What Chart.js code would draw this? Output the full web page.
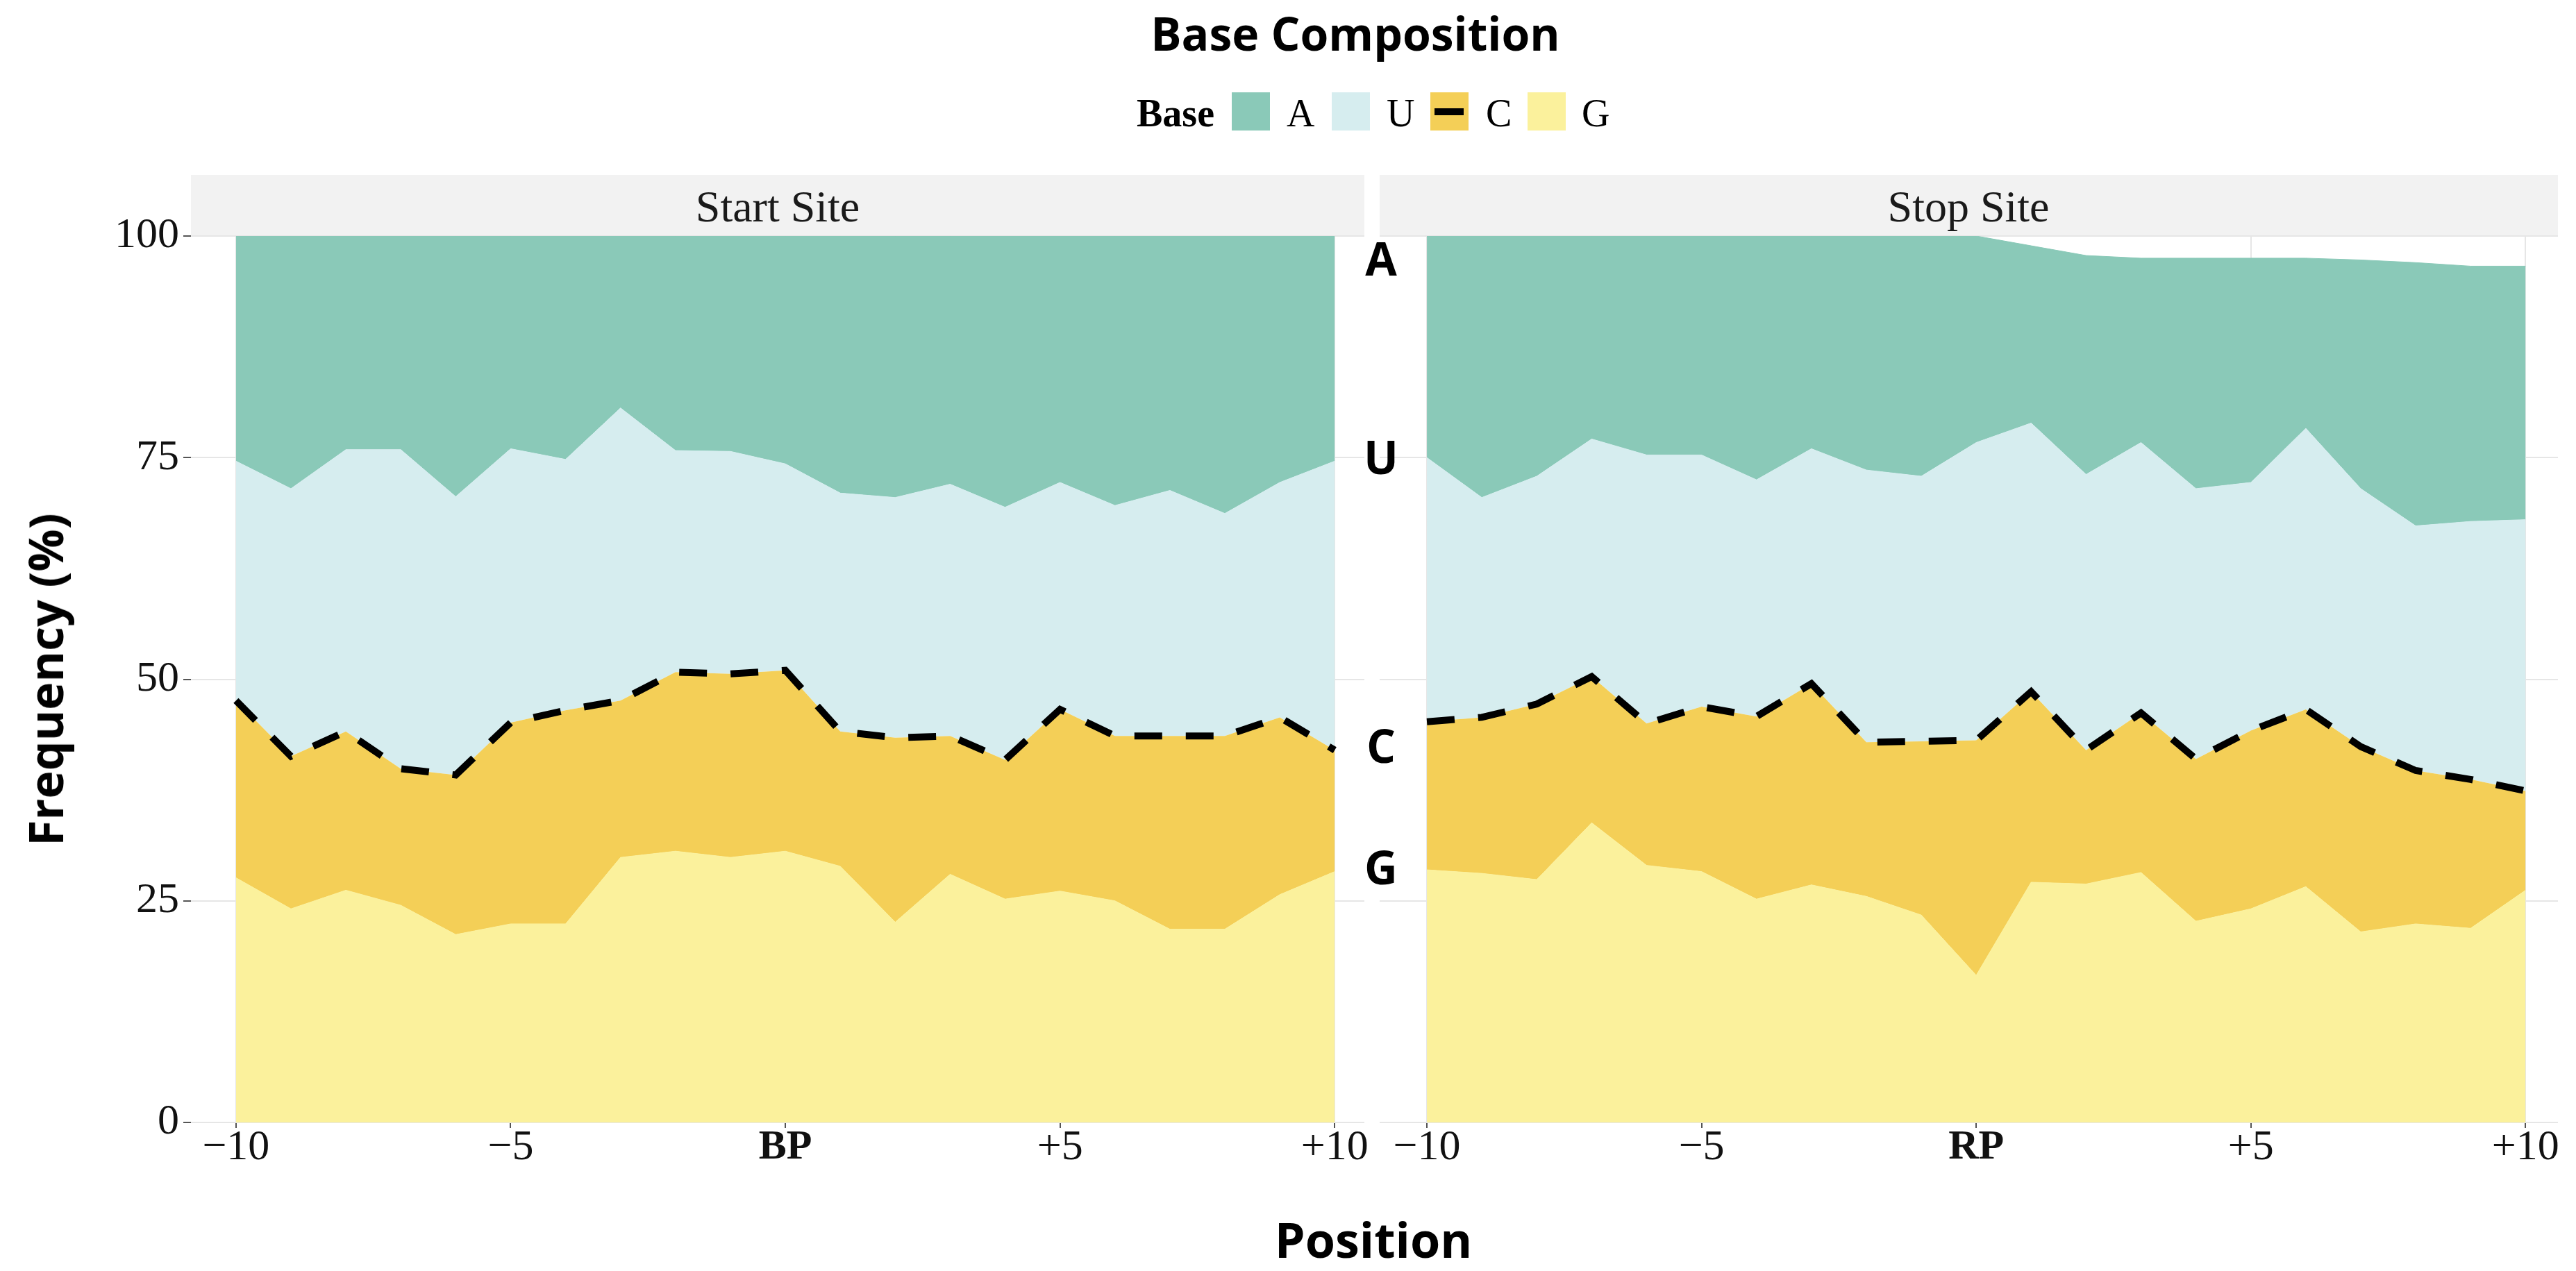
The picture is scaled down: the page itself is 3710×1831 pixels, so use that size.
<!DOCTYPE html>
<html lang="en">

<head>
  <meta charset="UTF-8" />
  <title>Base Composition</title>
  <script src="https://cdn.jsdelivr.net/npm/chart.js"></script>
  <style>
    body { margin: 0; width: 3710px; height: 1831px; position: relative; background: #fff; overflow: hidden; }
    .txt { position: absolute; white-space: nowrap; line-height: 1; color: #000; }
    .sans { font-family: "Open Sans", sans-serif; font-weight: 700; }
    .serif { font-family: "Liberation Serif", "Times New Roman", serif; }
    .strip { position: absolute; top: 252px; height: 88px; background: #f2f2f2; }
    .key { position: absolute; top: 133px; width: 55px; height: 55px; }
    canvas { position: absolute; top: 300px; }
  </style>
</head>

<body>
  <div class="txt sans" style="font-size:66px; left:1952px; top:14px; transform:translateX(-50%);">Base Composition</div>

  <!-- legend -->
  <div class="txt serif" style="font-size:56px; font-weight:700; left:1637px; top:135px;">Base</div>
  <div class="key" style="left:1774px; background:#8ac9b8;"></div>
  <div class="txt serif" style="font-size:56px; left:1853px; top:135px;">A</div>
  <div class="key" style="left:1918px; background:#d6edef;"></div>
  <div class="txt serif" style="font-size:56px; left:1997px; top:135px;">U</div>
  <div class="key" style="left:2060px; background:#f4cf57;">
    <div style="position:absolute; left:6px; top:23px; width:42px; height:10px; background:#000;"></div>
  </div>
  <div class="txt serif" style="font-size:56px; left:2140px; top:135px;">C</div>
  <div class="key" style="left:2200px; background:#fbf19c;"></div>
  <div class="txt serif" style="font-size:56px; left:2278px; top:135px;">G</div>

  <!-- facet strips -->
  <div class="strip" style="left:275px; width:1690px;"></div>
  <div class="strip" style="left:1987px; width:1697px;"></div>
  <div class="txt serif" style="font-size:64px; left:1120px; top:266px; transform:translateX(-50%); color:#1a1a1a;">Start Site</div>
  <div class="txt serif" style="font-size:64px; left:2835px; top:266px; transform:translateX(-50%); color:#1a1a1a;">Stop Site</div>

  <canvas id="startChart" width="2030" height="1531" style="left:0px;"></canvas>
  <canvas id="stopChart" width="1770" height="1531" style="left:1940px;"></canvas>

  <div class="txt sans" style="font-size:68px; left:65px; top:979px; transform:translate(-50%,-50%) rotate(-90deg);">Frequency (%)</div>
  <div class="txt sans" style="font-size:70px; left:1978px; top:1750px; transform:translateX(-50%);">Position</div>

  <script>
    const positions = [-10, -9, -8, -7, -6, -5, -4, -3, -2, -1, 0, 1, 2, 3, 4, 5, 6, 7, 8, 9, 10];
    const xTicks = [-10, -5, 0, 5, 10];
    const startTickLabels = ["\u221210", "\u22125", "BP", "+5", "+10"];
    const stopTickLabels = ["\u221210", "\u22125", "RP", "+5", "+10"];

    // frequency (%) of each base per position
    const startA = [25.4, 28.5, 24.1, 24.1, 29.4, 24.0, 25.2, 19.4, 24.2, 24.3, 25.7, 29.0, 29.5, 28.0, 30.6, 27.8, 30.4, 28.7, 31.3, 27.8, 25.4];
    const startU = [27.0, 30.2, 31.8, 36.0, 31.4, 30.9, 28.3, 33.0, 25.0, 25.1, 23.3, 26.9, 27.1, 28.4, 28.5, 25.6, 26.0, 27.7, 25.1, 26.5, 32.6];
    const startC = [20.0, 17.2, 17.9, 15.4, 18.0, 22.7, 24.1, 17.7, 20.2, 20.7, 20.4, 15.2, 20.8, 15.6, 15.7, 20.5, 18.6, 21.8, 21.8, 20.0, 13.7];
    const startG = [27.6, 24.1, 26.2, 24.5, 21.2, 22.4, 22.4, 29.9, 30.6, 29.9, 30.6, 28.9, 22.6, 28.0, 25.2, 26.1, 25.0, 21.8, 21.8, 25.7, 28.3];

    const stopA = [25.0, 29.5, 27.1, 22.9, 24.7, 24.7, 27.5, 24.0, 26.4, 27.1, 23.3, 20.0, 24.7, 20.8, 26.0, 25.3, 19.2, 25.8, 29.7, 28.8, 28.6];
    const stopU = [29.8, 24.8, 25.7, 26.8, 30.3, 28.4, 26.7, 26.5, 30.7, 29.9, 33.6, 30.3, 31.1, 30.5, 30.5, 28.0, 31.7, 29.1, 27.6, 29.1, 30.6];
    const stopC = [16.7, 17.6, 19.8, 16.5, 16.0, 18.6, 20.6, 22.7, 17.4, 19.6, 26.5, 21.5, 15.1, 18.0, 18.3, 20.1, 20.0, 20.9, 17.3, 16.8, 11.2];
    const stopG = [28.5, 28.1, 27.4, 33.8, 29.0, 28.3, 25.2, 26.8, 25.5, 23.4, 16.6, 27.1, 26.9, 28.2, 22.7, 24.1, 26.6, 21.5, 22.4, 21.9, 26.2];

    const colA = "#8ac9b8";
    const colU = "#d6edef";
    const colC = "#f4cf57";
    const colG = "#fbf19c";
    const gridCol = "#e6e6e6";
    const serif = "'Liberation Serif', 'Times New Roman', serif";

    function pts(vals) {
      return positions.map((p, i) => ({ x: p, y: vals[i] }));
    }

    function areaSets(a, u, c, g) {
      return [
        { label: "G", data: pts(g), backgroundColor: colG, borderColor: colG, borderWidth: 1, fill: "origin" },
        { label: "C", data: pts(c), backgroundColor: colC, borderColor: "#000", borderWidth: 10,
          borderDash: [40, 34], borderCapStyle: "butt", borderJoinStyle: "miter", fill: "-1" },
        { label: "U", data: pts(u), backgroundColor: colU, borderColor: colU, borderWidth: 1, fill: "-1" },
        { label: "A", data: pts(a), backgroundColor: colA, borderColor: colA, borderWidth: 1, fill: "-1" }
      ];
    }

    function xScale(min, max, labels) {
      return {
        type: "linear",
        min: min,
        max: max,
        afterBuildTicks: s => { s.ticks = xTicks.map(v => ({ value: v })); },
        afterFit: s => { s.height = 214; },
        grid: { color: gridCol, lineWidth: 2, tickColor: "#555", tickLength: 8 },
        border: { display: false },
        ticks: {
          padding: -2,
          color: "#111",
          font: ctx => ctx.tick && ctx.tick.value === 0
            ? { family: serif, size: 60, weight: "bold", lineHeight: 1 }
            : { family: serif, size: 62, lineHeight: 1 },
          callback: (v) => labels[xTicks.indexOf(v)]
        }
      };
    }

    // letters between the two panels, at the start-site boundaries of position +10
    const gapLabels = {
      id: "gapLabels",
      afterDatasetsDraw(chart) {
        const { ctx, chartArea, scales: { y } } = chart;
        const last = positions.length - 1;
        const gTop = startG[last];
        const cTop = gTop + startC[last];
        const uTop = cTop + startU[last];
        ctx.save();
        ctx.font = "bold 66px 'Open Sans'";
        ctx.fillStyle = "#000";
        ctx.textAlign = "center";
        ctx.textBaseline = "middle";
        const x = chartArea.left + 2;
        ctx.fillText("A", x, y.getPixelForValue(100) + 38);
        ctx.fillText("U", x, y.getPixelForValue(uTop));
        ctx.fillText("C", x, y.getPixelForValue(cTop));
        ctx.fillText("G", x, y.getPixelForValue(gTop));
        ctx.restore();
      }
    };

    const common = {
      responsive: false,
      devicePixelRatio: 1,
      animation: false,
      elements: { point: { radius: 0 }, line: { tension: 0 } },
      plugins: { legend: { display: false }, tooltip: { enabled: false } }
    };

    new Chart(document.getElementById("startChart"), {
      type: "line",
      data: { datasets: areaSets(startA, startU, startC, startG) },
      options: {
        ...common,
        layout: { padding: { left: 0, right: 65, top: 40, bottom: 0 } },
        scales: {
          x: xScale(-10.82, 10.54, startTickLabels),
          y: {
            stacked: true,
            min: 0,
            max: 100,
            afterFit: s => { s.width = 275; },
            grid: { color: gridCol, lineWidth: 2, tickColor: "#555", tickLength: 11 },
            border: { display: false },
            ticks: { stepSize: 25, padding: 6, color: "#111", font: { family: serif, size: 62, lineHeight: 1 } }
          }
        }
      }
    });

    new Chart(document.getElementById("stopChart"), {
      type: "line",
      data: { datasets: areaSets(stopA, stopU, stopC, stopG) },
      options: {
        ...common,
        layout: { padding: { left: 47, right: 26, top: 40, bottom: 0 } },
        scales: {
          x: xScale(-10.86, 10.59, stopTickLabels),
          y: {
            stacked: true,
            min: 0,
            max: 100,
            afterFit: s => { s.width = 0; },
            grid: { color: gridCol, lineWidth: 2, drawTicks: false },
            border: { display: false },
            ticks: { stepSize: 25, display: false }
          }
        }
      },
      plugins: [gapLabels]
    });
  </script>
</body>

</html>
